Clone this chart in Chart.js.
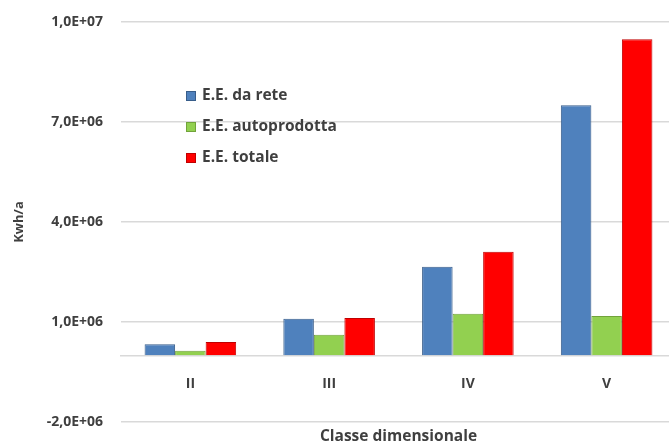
<!DOCTYPE html>
<html>
<head>
<meta charset="utf-8">
<script src="https://cdn.jsdelivr.net/npm/chart.js@4.4.1/dist/chart.umd.min.js"></script>
<style>
    html, body { margin: 0; padding: 0; background: #fff; overflow: hidden; }
    #wrap { position: relative; width: 678px; height: 446px; }
</style>
</head>
<body>
<div id="wrap"><canvas id="energyChart"></canvas></div>
<script>
// categories and series
const categories = ['II', 'III', 'IV', 'V'];
const daRete = [330000, 1100000, 2660000, 7500000];
const autoprodotta = [140000, 620000, 1250000, 1180000];
const totale = [400000, 1120000, 3110000, 9480000];
const seriesLabels = ['E.E. da rete', 'E.E. autoprodotta', 'E.E. totale'];
const yTicks = [-2000000, 1000000, 4000000, 7000000, 10000000];
const xTitle = 'Classe dimensionale';

const textColor = '#3f3f3f';
const fontFamily = '"Open Sans", sans-serif';

// 1,0E+07 style labels
function sciLabel(v) {
    if (v === 0) return '0,0E+00';
    const e = Math.floor(Math.log10(Math.abs(v)));
    const m = v / Math.pow(10, e);
    return m.toFixed(1).replace('.', ',') + 'E' + (e < 0 ? '-' : '+') + String(Math.abs(e)).padStart(2, '0');
}

// legend stacked inside the plot + x title centred under the plot area
const extras = {
    id: 'extras',
    afterDraw(chart) {
        const ctx = chart.ctx;
        const area = chart.chartArea;
        ctx.save();
        ctx.font = 'bold 15.5px ' + fontFamily;
        ctx.textBaseline = 'middle';
        chart.data.datasets.forEach((ds, i) => {
            const y = 96 + i * 31;
            ctx.fillStyle = ds.backgroundColor;
            ctx.fillRect(186, y - 5, 10, 10);
            ctx.strokeStyle = ds.borderColor;
            ctx.lineWidth = 1;
            ctx.strokeRect(186.5, y - 4.5, 9, 9);
            ctx.fillStyle = textColor;
            ctx.fillText(ds.label, 202, y);
        });
        ctx.textAlign = 'center';
        ctx.fillText(xTitle, (area.left + area.right) / 2, 437);
        ctx.restore();
    }
};

new Chart(document.getElementById('energyChart'), {
    type: 'bar',
    data: {
        labels: categories,
        datasets: [
            {
                label: seriesLabels[0],
                data: daRete,
                backgroundColor: '#4f81bd',
                borderColor: '#385d8a',
                borderWidth: 1
            },
            {
                label: seriesLabels[1],
                data: autoprodotta,
                backgroundColor: '#92d050',
                borderColor: '#71a33b',
                borderWidth: 1
            },
            {
                label: seriesLabels[2],
                data: totale,
                backgroundColor: '#ff0000',
                borderColor: '#c00000',
                borderWidth: 1
            }
        ]
    },
    options: {
        responsive: true,
        maintainAspectRatio: false,
        animation: false,
        layout: { padding: { top: 22, right: 2, left: 0, bottom: 24 } },
        datasets: {
            bar: { categoryPercentage: 0.66, barPercentage: 1 }
        },
        plugins: {
            legend: { display: false },
            tooltip: { enabled: false }
        },
        scales: {
            x: {
                position: { y: 0 },
                grid: { display: false },
                border: { display: true, color: '#d9d9d9', width: 1.5 },
                ticks: {
                    color: textColor,
                    padding: 12,
                    font: { family: fontFamily, size: 14, weight: 'bold' }
                }
            },
            y: {
                min: -2000000,
                max: 10000000,
                afterBuildTicks(scale) {
                    scale.ticks = yTicks.map(v => ({ value: v }));
                },
                afterFit(scale) {
                    scale.width = 121;
                },
                // invisible tick marks give the gap between labels and plot
                grid: { color: '#d9d9d9', lineWidth: 1.5, drawTicks: true, tickLength: 18, tickColor: 'rgba(0,0,0,0)' },
                border: { display: false },
                ticks: {
                    color: textColor,
                    padding: 0,
                    font: { family: fontFamily, size: 14, weight: 'bold' },
                    callback: v => sciLabel(v)
                },
                title: {
                    display: true,
                    text: 'Kwh/a',
                    color: textColor,
                    font: { family: fontFamily, size: 13, weight: 'bold' },
                    padding: { top: 11, bottom: 0 }
                }
            }
        }
    },
    plugins: [extras]
});
</script>
</body>
</html>
